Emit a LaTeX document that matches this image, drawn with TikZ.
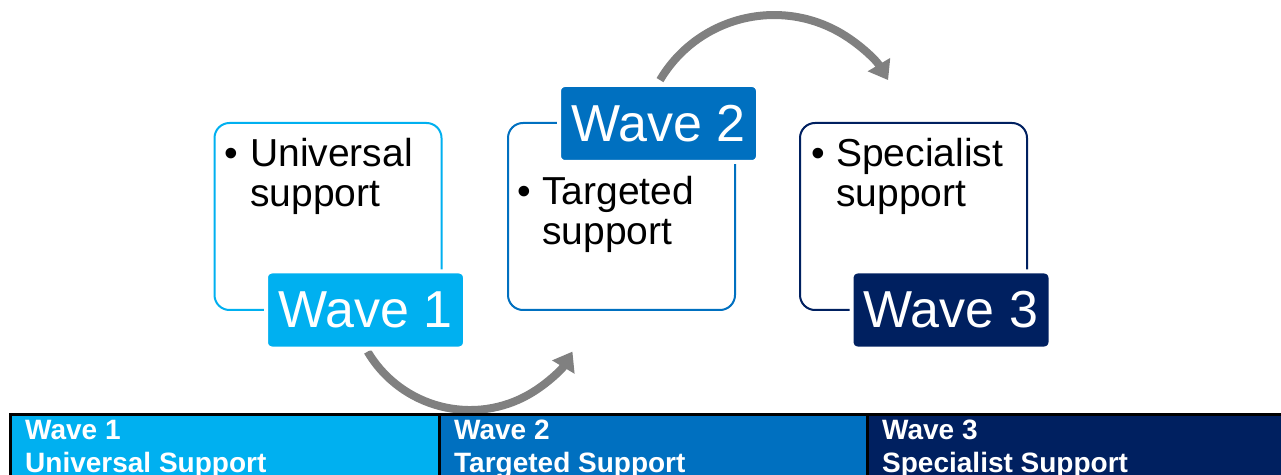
\documentclass[tikz,border=0pt]{standalone}
\usepackage{fontspec}
\setmainfont{Liberation Sans}
\usetikzlibrary{arrows.meta}
\definecolor{wlight}{HTML}{00B0F0}
\definecolor{wmid}{HTML}{0070C0}
\definecolor{wdark}{HTML}{002060}
\definecolor{agray}{HTML}{808080}
\tikzset{
  outerbox/.style={draw, line width=2pt, fill=white, rounded corners=15pt, minimum width=227pt, minimum height=187pt, inner sep=0pt},
  wavelabel/.style={draw=white, line width=4pt, rounded corners=6pt, minimum width=199pt, minimum height=77pt, inner sep=0pt, text=white, font=\fontsize{52}{60}\selectfont},
  bullettext/.style={anchor=base west, inner sep=0pt, font=\fontsize{39}{40}\selectfont},
  cell/.style={draw=black, line width=3pt, anchor=north west, minimum height=90pt, inner sep=0pt},
  celltext/.style={anchor=base west, inner sep=0pt, text=white, font=\fontsize{28}{33}\selectfont\bfseries},
  warrow/.style={draw=agray, line width=8pt, -{Triangle[width=25pt,length=18pt]}}
}
\begin{document}
\begin{tikzpicture}[x=1pt,y=1pt]
\useasboundingbox (0,0) rectangle (1281,474);
\clip (0,0) rectangle (1281,474);
\fill[white] (0,0) rectangle (1281,474);
% connectors
\coordinate (a1) at (367.6,122.4);
\coordinate (a2) at (660,393.9);
\draw[warrow] (a1) arc[start angle=-149.4, end angle=-30.6, radius=119];
\draw[warrow] (a2) arc[start angle=149.4, end angle=30.6, radius=132.5];
% boxes
\node[outerbox, draw=wlight] (b1) at (328,257.5) {};
\node[outerbox, draw=wmid] (b2) at (621.5,257.5) {};
\node[outerbox, draw=wdark] (b3) at (913.5,257.5) {};
% bullets
\node[bullettext] (p1) at (224,307) {•};
\node[bullettext] (t1a) at (250,307) {Universal};
\node[bullettext] (t1b) at (250,267) {support};
\node[bullettext] (p2) at (517,269) {•};
\node[bullettext] (t2a) at (542,269) {Targeted};
\node[bullettext] (t2b) at (542,229) {support};
\node[bullettext] (p3) at (811,307) {•};
\node[bullettext] (t3a) at (836,307) {Specialist};
\node[bullettext] (t3b) at (836,267) {support};
% labels
\node[wavelabel, fill=wlight] (l1) at (365.5,164) {Wave 1};
\node[wavelabel, fill=wmid] (l2) at (658.5,350.5) {Wave 2};
\node[wavelabel, fill=wdark] (l3) at (951,164) {Wave 3};
% table
\node[cell, fill=wlight, minimum width=429.5pt] (c1) at (8.5,61.5) {};
\node[cell, fill=wmid, minimum width=428pt] (c2) at (438,61.5) {};
\node[cell, fill=wdark, minimum width=440pt] (c3) at (866,61.5) {};
\node[celltext] (h1) at (25,35) {Wave 1};
\node[celltext] (s1) at (25,2) {Universal Support};
\node[celltext] (h2) at (454,35) {Wave 2};
\node[celltext] (s2) at (454,2) {Targeted Support};
\node[celltext] (h3) at (882,35) {Wave 3};
\node[celltext] (s3) at (882,2) {Specialist Support};
\end{tikzpicture}
\end{document}
